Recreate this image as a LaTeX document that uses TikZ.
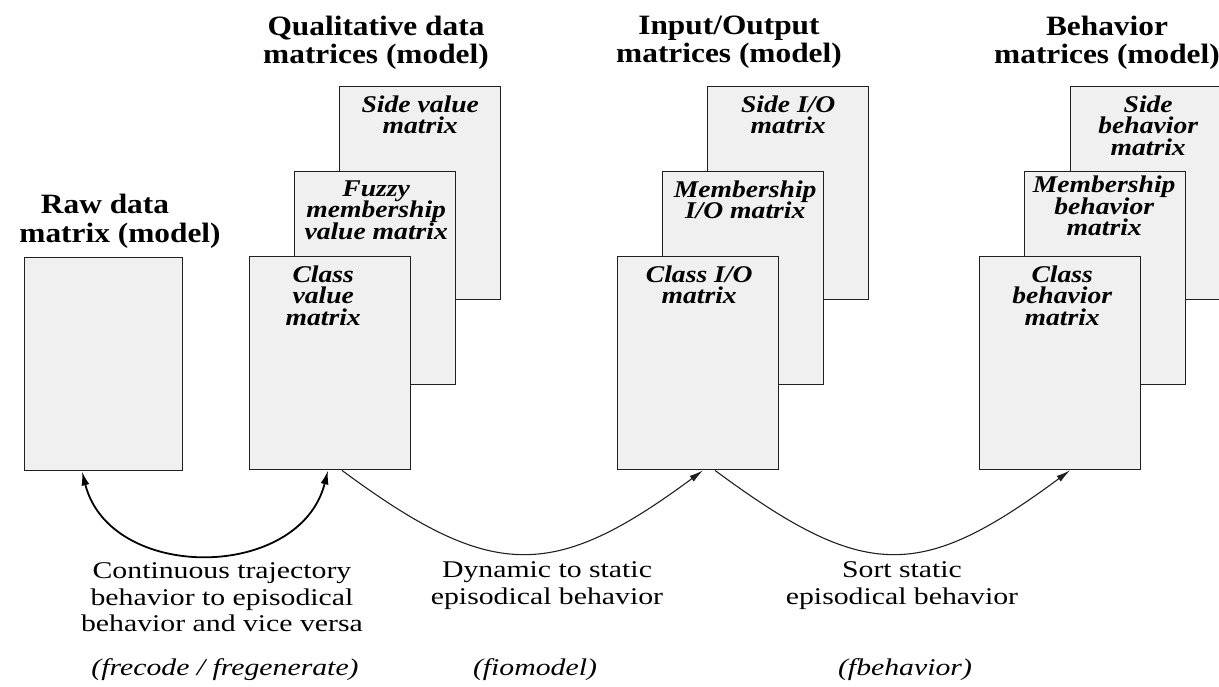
\documentclass[tikz,border=0pt]{standalone}
\usepackage{fontspec}
\setmainfont{Liberation Serif}
\newfontfamily\headfont[FakeStretch=1.12]{Liberation Serif}
\newfontfamily\cellfont[FakeStretch=1.15]{Liberation Serif}
\newfontfamily\notefont[FakeStretch=1.24]{Liberation Serif}
\usetikzlibrary{calc,arrows.meta}
\definecolor{sheet}{HTML}{F0F0F0}
\definecolor{rim}{HTML}{202020}
\setlength{\lineskiplimit}{-50pt}
\begin{document}
\begin{tikzpicture}[x=1pt,y=-1pt,
  mat/.style={draw=rim,line width=1.4pt,fill=sheet,minimum width=161pt,
    minimum height=213pt,anchor=north west,inner sep=0pt},
  cell/.style={font=\cellfont\fontsize{24}{21.5}\selectfont\bfseries\itshape,
    align=center,anchor=north,inner sep=0pt},
  head/.style={font=\headfont\fontsize{28}{27.5}\selectfont\bfseries,
    align=center,anchor=north,inner sep=0pt},
  note/.style={font=\notefont\fontsize{24}{26.5}\selectfont,
    align=center,anchor=north,inner sep=0pt},
  fname/.style={font=\notefont\fontsize{24}{26.5}\selectfont\itshape,anchor=north,inner sep=0pt},
  flow/.style={-{Latex[length=14pt,width=7pt]},line width=1.1pt,draw=rim},
  swap/.style={{Latex[length=14pt,width=8pt]}-{Latex[length=14pt,width=8pt]},line width=1.8pt,draw=black}
]
\useasboundingbox (0,0) rectangle (1219,686);
\clip (0,0) rectangle (1219,686);

% raw data matrix
\node[mat,minimum width=158pt] (rawm) at (24,257) {};
\node[head] (rawt1) at (105,194) {Raw data};
\node[head] (rawt2) at (120,223) {matrix (model)};

% qualitative data matrices, back to front
\node[head] (qualt) at (376,16) {Qualitative data\\matrices (model)};
\node[mat] (sidev) at (339,86) {};
\node[cell] (sidevt) at ($(sidev.north)+(0,9.5)$) {Side value\\matrix};
\node[mat] (fuzzyv) at (294,171) {};
\node[cell] (fuzzyvt) at ($(fuzzyv.north)+(1,9.5)$) {Fuzzy\\membership\\value matrix};
\node[mat] (classv) at (249,256) {};
\node[cell] (classvt) at ($(classv.north)+(-7,9.5)$) {Class\\value\\matrix};

% input/output matrices
\node[head] (iot) at (729,16) {Input/Output\\matrices (model)};
\node[mat] (sideio) at (707,86) {};
\node[cell] (sideiot) at ($(sideio.north)+(0,9.5)$) {Side I/O\\matrix};
\node[mat] (membio) at (662,171) {};
\node[cell] (membiot) at ($(membio.north)+(2,9.5)$) {Membership\\I/O matrix};
\node[mat] (classio) at (617,256) {};
\node[cell] (classiot) at ($(classio.north)+(1,9.5)$) {Class I/O\\matrix};

% behavior matrices
\node[head] (behavt) at (1107,16) {Behavior\\matrices (model)};
\node[mat] (sideb) at (1070,86) {};
\node[cell] (sidebt) at ($(sideb.north)+(-3,9.5)$) {Side\\behavior\\matrix};
\node[mat] (membb) at (1024,171) {};
\node[cell] (membbt) at ($(membb.north)+(-1,5)$) {Membership\\behavior\\matrix};
\node[mat] (classb) at (979,256) {};
\node[cell] (classbt) at ($(classb.north)+(2,9.5)$) {Class\\behavior\\matrix};

% transformations
\draw[swap] ($(rawm.south west)+(58,0)$) .. controls +(28,111) and +(-28,111) .. ($(classv.south west)+(79,0)$);
\draw[flow] ($(classv.south west)+(93,0)$) .. controls +(150,111) and +(-150,111) .. ($(classio.south west)+(86,0)$);
\draw[flow] ($(classio.south west)+(98,0)$) .. controls +(150,111) and +(-150,111) .. ($(classb.south west)+(91,0)$);

% labels
\node[note] (lab1) at (222,562.5) {Continuous trajectory\\behavior to episodical\\behavior and vice versa};
\node[fname] (fn1) at (225,658) {(frecode / fregenerate)};
\node[note] (lab2) at (547,561.5) {Dynamic to static\\episodical behavior};
\node[fname] (fn2) at (535,658) {(fiomodel)};
\node[note] (lab3) at (902,561.5) {Sort static\\episodical behavior};
\node[fname] (fn3) at (905,658) {(fbehavior)};
\end{tikzpicture}
\end{document}
